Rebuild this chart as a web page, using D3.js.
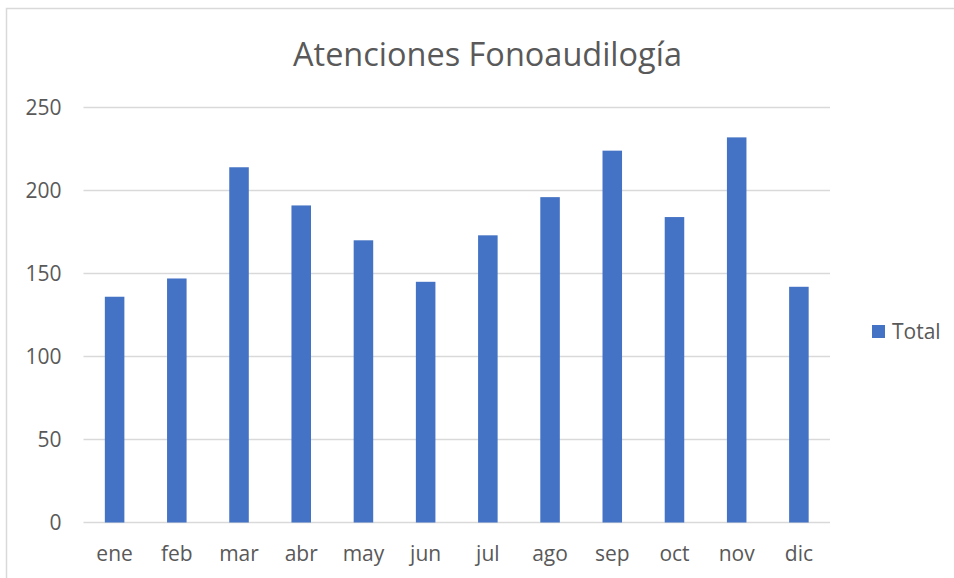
<!DOCTYPE html>
<html>
<head>
<meta charset="utf-8">
<script src="https://cdnjs.cloudflare.com/ajax/libs/d3/7.8.5/d3.min.js"></script>
<style>
  body { margin: 0; background: #fff; }
  text { font-family: "Open Sans", sans-serif; fill: #595959; }
</style>
</head>
<body>
<div id="chart"></div>
<script>
// chart data
var months = ["ene", "feb", "mar", "abr", "may", "jun", "jul", "ago", "sep", "oct", "nov", "dic"];
var totals = [136, 147, 214, 191, 170, 145, 173, 196, 224, 184, 232, 142];
var yTicks = [0, 50, 100, 150, 200, 250];
var seriesName = "Total";
var chartTitle = "Atenciones Fonoaudilogía";

var width = 954, height = 578;
var plot = {left: 83.5, right: 830, top: 107.5, bottom: 522.5};

var svg = d3.select("#chart").append("svg")
    .attr("width", width)
    .attr("height", height);

// outer chart frame (only top and left edges are visible in the crop)
svg.append("path")
    .attr("d", "M6.5," + height + "V8.5H" + width)
    .attr("fill", "none")
    .attr("stroke", "#d9d9d9")
    .attr("stroke-width", 1.5);

var x = d3.scaleBand()
    .domain(months)
    .range([plot.left, plot.right])
    .paddingInner(0.686)
    .paddingOuter(0.343);

var y = d3.scaleLinear()
    .domain([0, 250])
    .range([plot.bottom, plot.top]);

// gridlines
svg.append("g").selectAll("line")
    .data(yTicks)
    .enter()
    .append("line")
    .attr("x1", plot.left)
    .attr("x2", plot.right)
    .attr("y1", function (d) { return y(d); })
    .attr("y2", function (d) { return y(d); })
    .attr("stroke", "#d9d9d9")
    .attr("stroke-width", 1.5);

// y axis labels
var yAxis = d3.axisLeft(y).tickValues(yTicks).tickSize(0).tickPadding(22);
var gy = svg.append("g")
    .attr("transform", "translate(" + plot.left + ",0)")
    .call(yAxis);
gy.select(".domain").remove();
gy.selectAll("text")
    .attr("font-size", "21px")
    .attr("font-family", "Open Sans, sans-serif")
    .attr("fill", "#595959");

// x axis labels
var xAxis = d3.axisBottom(x).tickSize(0).tickPadding(24);
var gx = svg.append("g")
    .attr("transform", "translate(0," + plot.bottom + ")")
    .call(xAxis);
gx.select(".domain").remove();
gx.selectAll("text")
    .attr("font-size", "21px")
    .attr("font-family", "Open Sans, sans-serif")
    .attr("fill", "#595959");

// bars
svg.append("g").selectAll("rect")
    .data(totals)
    .enter()
    .append("rect")
    .attr("x", function (d, i) { return x(months[i]); })
    .attr("y", function (d) { return y(d); })
    .attr("width", x.bandwidth())
    .attr("height", function (d) { return y(0) - y(d); })
    .attr("fill", "#4472c4");

// title, fitted to the reference width
var title = svg.append("text")
    .attr("x", 487.5)
    .attr("y", 66)
    .attr("text-anchor", "middle")
    .attr("font-size", "30px")
    .text(chartTitle);
var tw = title.node().getComputedTextLength();
title.attr("font-size", (30 * 389 / tw).toFixed(2) + "px");

// legend
var legend = svg.append("g").attr("transform", "translate(872,325)");
legend.append("rect")
    .attr("width", 13)
    .attr("height", 13)
    .attr("fill", "#4472c4");
legend.append("text")
    .attr("x", 20)
    .attr("y", 14)
    .attr("font-size", "21px")
    .text(seriesName);
</script>
</body>
</html>
